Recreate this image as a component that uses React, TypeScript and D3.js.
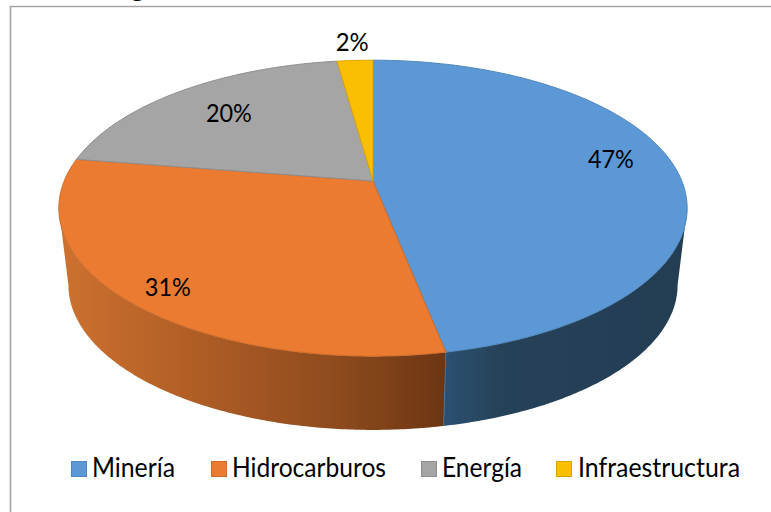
import * as d3 from 'd3'

// Values; labels are what the chart prints
const categories = ['Minería', 'Hidrocarburos', 'Energía', 'Infraestructura']
const shares = [46.9, 30.6, 20.3, 2.2]
const shareLabels = ['47%', '31%', '20%', '2%']
const topColors = ['#5b98d5', '#ea7b30', '#a5a5a5', '#fcbe00']
const edgeColors = ['#4f86bb', '#cc6c2b', '#8e8e8e', '#d9a400']

// Layout
const WIDTH = 771
const HEIGHT = 512
const FONT = 'Lato, "Open Sans", sans-serif'
const labelRadius = [0.785, 0.85, 0.73, 1.19]
const labelLift = [-11, 7, 0, 0]
const legendSwatchX = [71, 211, 421, 556]
const legendTextX = [92, 232, 442, 578]
const legendTextWidth = [83, 154, 80, 162]

// Perspective of the tilted disc: the far half is flatter than the near half
const TILT = 0.1837
const topFace = { cx: 373, cy: 181, a: 308.8, b: 143 }
const bottomFace = { cx: 373, cy: 258.4, a: 299.4, b: 140 }
const SILHOUETTE = (100.7 * Math.PI) / 180

type Face = typeof topFace

function project(face: Face, angle: number, r = 1): [number, number] {
  const u = Math.sin(angle) * r
  const v = -Math.cos(angle) * r
  const w = 1 - TILT * v
  return [face.cx + (face.a * u) / w, face.cy + (face.b * v) / w]
}

function arcPoints(face: Face, from: number, to: number) {
  const steps = Math.max(2, Math.ceil(Math.abs(to - from) / 0.01))
  const t = d3.scaleLinear().domain([0, steps]).range([from, to])
  return d3.range(steps + 1).map(i => project(face, t(i)))
}

const line = d3.line()

const slices = d3.pie<number>().sort(null).startAngle(0).endAngle(2 * Math.PI)(shares)

function slicePath(start: number, end: number) {
  return line([[topFace.cx, topFace.cy], ...arcPoints(topFace, start, end)]) + 'Z'
}

function wallPath(start: number, end: number) {
  return line([...arcPoints(topFace, start, end), ...arcPoints(bottomFace, end, start)]) + 'Z'
}

export default function App() {
  const blueEnd = slices[0].endAngle
  const orangeEnd = 2 * Math.PI - SILHOUETTE // left silhouette, mirrored from the right one

  return (
    <svg
      width={WIDTH}
      height={HEIGHT}
      viewBox={`0 0 ${WIDTH} ${HEIGHT}`}
      style={{ position: 'absolute', left: 0, top: 0, background: '#fff' }}
    >
      <defs>
        <linearGradient id="wall-blue" gradientUnits="userSpaceOnUse" x1={445} x2={690} y1={0} y2={0}>
          <stop offset="0" stopColor="#2c5071" />
          <stop offset="0.22" stopColor="#264259" />
          <stop offset="1" stopColor="#233d53" />
        </linearGradient>
        <linearGradient id="wall-orange" gradientUnits="userSpaceOnUse" x1={60} x2={445} y1={0} y2={0}>
          <stop offset="0" stopColor="#cd7230" />
          <stop offset="0.35" stopColor="#b05d25" />
          <stop offset="0.7" stopColor="#8f4c1e" />
          <stop offset="1" stopColor="#6d3613" />
        </linearGradient>
      </defs>

      {/* what is left of the cropped title and the chart frame */}
      <text x={131} y={-3} fontFamily={FONT} fontWeight={900} fontSize={26} fill="#000">g</text>
      <path d={`M10.5,${HEIGHT}V6.5H${WIDTH}`} fill="none" stroke="#a6a6a6" strokeWidth={1.6} />

      <path d={wallPath(SILHOUETTE, blueEnd)} fill="url(#wall-blue)" />
      <path d={wallPath(blueEnd, orangeEnd)} fill="url(#wall-orange)" />
      <path
        d={line([project(topFace, blueEnd), project(bottomFace, blueEnd)]) ?? ''}
        stroke="#3f6f9e"
        strokeWidth={1}
      />

      {slices.map((s, i) => (
        <path
          key={categories[i]}
          d={slicePath(s.startAngle, s.endAngle)}
          fill={topColors[i]}
          stroke={edgeColors[i]}
          strokeWidth={1}
          strokeLinejoin="round"
        />
      ))}

      {slices.map((s, i) => {
        const [x, y] = project(topFace, (s.startAngle + s.endAngle) / 2, labelRadius[i])
        return (
          <text
            key={shareLabels[i]}
            x={x}
            y={y + labelLift[i] + 9}
            textAnchor="middle"
            fontFamily={FONT}
            fontSize={25}
            fill="#000"
            textLength={shareLabels[i].length === 2 ? 33 : 46}
            lengthAdjust="spacingAndGlyphs"
          >
            {shareLabels[i]}
          </text>
        )
      })}

      {categories.map((c, i) => (
        <g key={c}>
          <rect
            x={legendSwatchX[i] + 0.5}
            y={461.5}
            width={15}
            height={15}
            fill={topColors[i]}
            stroke={edgeColors[i]}
            strokeWidth={1}
          />
          <text
            x={legendTextX[i]}
            y={477}
            fontFamily={FONT}
            fontSize={26}
            fill="#000"
            textLength={legendTextWidth[i]}
            lengthAdjust="spacingAndGlyphs"
          >
            {c}
          </text>
        </g>
      ))}
    </svg>
  )
}
